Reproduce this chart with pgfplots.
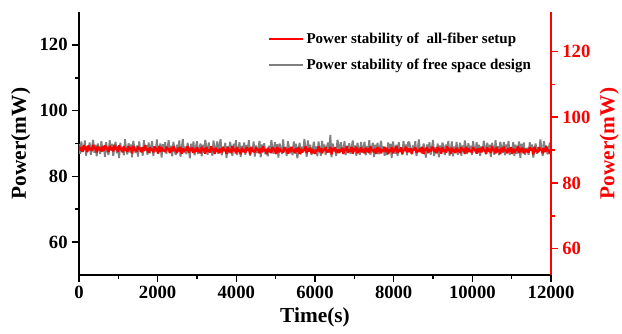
\documentclass[border=0pt]{standalone}
\usepackage{pgfplots}
\pgfplotsset{compat=1.18}
\usepackage{fontspec}
\setmainfont{Liberation Serif}
\definecolor{mygray}{RGB}{128,128,128}
\begin{document}
\begin{tikzpicture}
\path[use as bounding box] (-59.25pt,-44.25pt) rectangle (407.25pt,206.25pt);
\pgfplotsset{
 common/.style={
  scale only axis, width=354pt, height=197.25pt, at={(0,0)}, anchor=south west,
  xmin=0, xmax=12000, scaled x ticks=false, scaled y ticks=false,
  /pgf/number format/assume math mode=true,
  /pgf/number format/set thousands separator={},
  tick label style={font=\bfseries\fontsize{14}{14}\selectfont},
  label style={font=\bfseries\fontsize{16}{16}\selectfont},
  axis line style={-, line width=1.4pt},
  major tick length=5pt, minor tick length=3pt,
  every tick/.style={line width=1.2pt},
  tick align=outside,
 }
}
\begin{axis}[common, axis x line*=bottom, axis y line*=left,
  ymin=50, ymax=130, ytick={60,80,100,120}, minor y tick num=1,
  xtick={0,2000,...,12000}, minor x tick num=1,
  xlabel={Time(s)}, ylabel={Power(mW)}]
\addplot[mygray, line width=1.4pt, line join=bevel] coordinates {
(0,89.8)(30,86.9)(60,90.6)(90,87.4)(120,88.2)(150,90.9)(180,86.3)(210,89.1)(240,87.8)(270,90.3)
(300,86.6)(330,88.9)(360,91.1)(390,87.2)(420,89.6)(450,86.1)(480,90.0)(510,88.4)(540,86.8)(570,90.7)
(600,87.5)(630,89.3)(660,85.9)(690,90.4)(720,88.0)(750,86.5)(780,91.0)(810,87.9)(840,89.9)(870,86.2)
(900,88.7)(930,90.5)(960,87.0)(990,89.2)(1020,85.6)(1050,90.2)(1080,87.7)(1110,88.6)(1140,86.4)(1170,91.3)
(1200,88.1)(1230,86.7)(1260,90.1)(1290,87.3)(1320,89.7)(1350,85.8)(1380,90.8)(1410,88.5)(1440,87.1)(1470,89.4)
(1500,86.0)(1530,90.6)(1560,87.6)(1590,88.8)(1620,86.3)(1650,91.0)(1680,87.9)(1710,89.5)(1740,86.6)(1770,90.3)
(1800,87.0)(1830,88.9)(1860,90.7)(1890,86.2)(1920,89.0)(1950,87.4)(1980,91.2)(2010,86.8)(2040,88.3)(2070,90.0)
(2100,85.7)(2130,89.8)(2160,87.5)(2190,90.4)(2220,86.9)(2250,88.6)(2280,91.0)(2310,87.2)(2340,89.3)(2370,86.1)
(2400,90.5)(2430,88.0)(2460,86.5)(2490,89.6)(2520,87.8)(2550,90.9)(2580,86.0)(2610,88.4)(2640,91.4)(2670,87.3)
(2700,89.1)(2730,86.7)(2760,90.2)(2790,88.2)(2820,85.5)(2850,89.9)(2880,87.6)(2910,90.6)(2940,86.4)(2970,88.8)
(3000,90.7)(3030,86.8)(3060,88.4)(3090,90.0)(3120,86.1)(3150,89.6)(3180,87.2)(3210,91.1)(3240,88.9)(3270,86.6)
(3300,90.3)(3330,87.8)(3360,89.1)(3390,86.3)(3420,90.9)(3450,88.2)(3480,87.4)(3510,90.6)(3540,86.9)(3570,89.8)
(3600,91.3)(3630,86.4)(3660,88.6)(3690,87.7)(3720,90.2)(3750,85.6)(3780,89.2)(3810,87.0)(3840,90.5)(3870,88.7)
(3900,86.2)(3930,89.9)(3960,87.9)(3990,91.0)(4020,86.5)(4050,88.0)(4080,90.4)(4110,85.9)(4140,89.3)(4170,87.5)
(4200,90.3)(4230,86.6)(4260,89.5)(4290,87.9)(4320,91.0)(4350,86.3)(4380,88.8)(4410,87.6)(4440,90.6)(4470,86.0)
(4500,89.4)(4530,87.1)(4560,88.5)(4590,90.8)(4620,85.8)(4650,89.7)(4680,87.3)(4710,90.1)(4740,86.7)(4770,88.1)
(4800,86.1)(4830,89.3)(4860,87.2)(4890,91.0)(4920,88.6)(4950,86.9)(4980,90.4)(5010,87.5)(5040,89.8)(5070,85.7)
(5100,90.0)(5130,88.3)(5160,86.8)(5190,91.2)(5220,87.4)(5250,89.0)(5280,86.2)(5310,90.7)(5340,88.9)(5370,87.0)
(5400,88.8)(5430,86.4)(5460,90.6)(5490,87.6)(5520,89.9)(5550,85.5)(5580,88.2)(5610,90.2)(5640,86.7)(5670,89.1)
(5700,87.3)(5730,91.4)(5760,88.4)(5790,86.0)(5820,90.9)(5850,87.8)(5880,89.6)(5910,86.5)(5940,88.0)(5970,90.5)
(6000,87.7)(6030,89.1)(6060,86.1)(6090,90.6)(6120,88.2)(6150,86.3)(6180,90.8)(6210,87.6)(6240,89.7)(6270,86.5)
(6300,88.9)(6330,90.3)(6360,87.2)(6390,92.6)(6420,85.8)(6450,90.0)(6480,87.5)(6510,88.8)(6540,86.2)(6570,91.1)
(6600,89.6)(6630,87.1)(6660,90.4)(6690,87.6)(6720,88.0)(6750,90.7)(6780,86.5)(6810,89.3)(6840,87.6)(6870,90.1)
(6900,86.8)(6930,88.7)(6960,90.9)(6990,87.4)(7020,89.4)(7050,86.3)(7080,90.2)(7110,88.2)(7140,86.6)(7170,90.5)
(7200,87.2)(7230,88.7)(7260,90.5)(7290,86.4)(7320,89.2)(7350,87.2)(7380,91.0)(7410,86.6)(7440,88.5)(7470,90.2)
(7500,85.9)(7530,89.6)(7560,87.7)(7590,90.2)(7620,86.7)(7650,88.8)(7680,90.8)(7710,87.4)(7740,89.1)(7770,86.3)
(7800,88.3)(7830,86.5)(7860,90.3)(7890,87.1)(7920,89.9)(7950,85.6)(7980,90.6)(8010,88.7)(8040,86.9)(8070,89.6)
(8100,86.2)(8130,90.4)(8160,87.8)(8190,88.6)(8220,86.5)(8250,90.8)(8280,87.7)(8310,89.7)(8340,86.4)(8370,90.5)
(8400,90.3)(8430,88.2)(8460,86.7)(8490,89.4)(8520,88.0)(8550,90.7)(8580,86.2)(8610,88.2)(8640,91.2)(8670,87.5)
(8700,88.9)(8730,86.9)(8760,90.0)(8790,88.4)(8820,85.7)(8850,89.7)(8880,87.8)(8910,90.4)(8940,86.6)(8970,88.6)
(9000,91.1)(9030,86.2)(9060,88.8)(9090,87.5)(9120,90.0)(9150,85.8)(9180,89.4)(9210,87.2)(9240,90.3)(9270,88.9)
(9300,86.5)(9330,89.7)(9360,87.6)(9390,90.8)(9420,86.3)(9450,88.2)(9480,90.6)(9510,86.1)(9540,89.1)(9570,87.7)
(9600,90.5)(9630,86.6)(9660,88.2)(9690,90.2)(9720,86.3)(9750,89.4)(9780,87.4)(9810,90.9)(9840,88.7)(9870,86.8)
(9900,90.1)(9930,87.6)(9960,89.3)(9990,86.5)(10020,90.7)(10050,88.0)(10080,87.6)(10110,90.4)(10140,87.1)(10170,89.6)
(10200,86.3)(10230,89.1)(10260,87.4)(10290,90.8)(10320,88.8)(10350,86.7)(10380,90.2)(10410,87.7)(10440,89.6)(10470,85.9)
(10500,90.2)(10530,88.5)(10560,86.6)(10590,91.0)(10620,87.2)(10650,89.2)(10680,86.4)(10710,90.5)(10740,88.7)(10770,87.2)
(10800,90.5)(10830,86.4)(10860,89.7)(10890,87.7)(10920,90.8)(10950,86.5)(10980,88.6)(11010,87.8)(11040,90.4)(11070,86.2)
(11100,89.6)(11130,86.9)(11160,88.7)(11190,90.6)(11220,85.6)(11250,89.9)(11280,87.1)(11310,90.3)(11340,86.5)(11370,88.3)
(11400,88.6)(11430,86.6)(11460,90.4)(11490,87.8)(11520,89.7)(11550,85.7)(11580,88.4)(11610,90.0)(11640,86.9)(11670,88.9)
(11700,87.5)(11730,91.2)(11760,88.2)(11790,86.2)(11820,90.7)(11850,88.0)(11880,89.4)(11910,86.7)(11940,88.2)(11970,90.3)
(12000,88.4)
};
\end{axis}
\begin{axis}[common, axis x line=none, axis y line*=right,
  ymin=52, ymax=132, ytick={60,80,100,120}, minor y tick num=1,
  axis line style={-, line width=1.4pt, red},
  every tick/.style={line width=1.2pt, red},
  yticklabel style={red},
  ylabel={Power(mW)}, ylabel style={red},
  legend cell align=left,
  legend style={draw=none, fill=none, at={(0.972,0.943)}, anchor=north east,
    font=\bfseries\fontsize{11.25}{13}\selectfont, row sep=6pt},
  legend image code/.code={\draw[#1, line width=1.3pt] (0cm,0cm) -- (0.9cm,0cm);}]
\addplot[red, line width=1.7pt, line join=bevel] coordinates {
(0,91.3)(30,89.9)(60,90.8)(90,89.5)(120,91.5)(150,90.2)(180,91.0)(210,89.4)(240,91.4)(270,90.1)
(300,90.6)(330,89.7)(360,91.6)(390,90.3)(420,90.9)(450,89.3)(480,91.2)(510,90.0)(540,90.7)(570,89.6)
(600,91.1)(630,89.8)(660,91.5)(690,90.4)(720,90.5)(750,89.4)(780,91.3)(810,90.0)(840,90.8)(870,89.6)
(900,91.6)(930,90.2)(960,90.9)(990,89.5)(1020,91.4)(1050,90.1)(1080,90.6)(1110,89.3)(1140,91.2)(1170,89.9)
(1200,90.5)(1230,89.5)(1260,91.2)(1290,90.1)(1320,90.8)(1350,89.0)(1380,91.3)(1410,89.8)(1440,90.3)(1470,89.6)
(1500,91.1)(1530,90.2)(1560,90.6)(1590,89.3)(1620,90.9)(1650,89.7)(1680,91.4)(1710,90.0)(1740,90.4)(1770,89.2)
(1800,90.9)(1830,89.8)(1860,90.4)(1890,89.3)(1920,91.1)(1950,90.0)(1980,90.6)(2010,89.0)(2040,91.2)(2070,89.5)
(2100,90.8)(2130,89.7)(2160,90.2)(2190,89.4)(2220,91.0)(2250,90.1)(2280,90.5)(2310,89.1)(2340,90.7)(2370,89.6)
(2400,91.1)(2430,89.8)(2460,90.2)(2490,89.1)(2520,90.7)(2550,89.6)(2580,91.0)(2610,88.9)(2640,90.5)(2670,89.4)
(2700,90.3)(2730,89.9)(2760,91.2)(2790,89.2)(2820,90.6)(2850,89.7)(2880,90.8)(2910,89.1)(2940,90.4)(2970,89.5)
(3000,90.8)(3030,89.4)(3060,90.3)(3090,89.0)(3120,91.0)(3150,89.7)(3180,90.5)(3210,88.9)(3240,90.9)(3270,89.6)
(3300,90.1)(3330,89.2)(3360,91.1)(3390,89.8)(3420,90.4)(3450,88.8)(3480,90.7)(3510,89.5)(3540,90.2)(3570,89.1)
(3600,90.6)(3630,89.3)(3660,91.0)(3690,89.9)(3720,90.0)(3750,88.9)(3780,90.8)(3810,89.5)(3840,90.3)(3870,89.1)
(3900,91.2)(3930,89.7)(3960,90.4)(3990,89.0)(4020,90.9)(4050,89.6)(4080,90.1)(4110,88.8)(4140,90.7)(4170,89.4)
(4200,90.2)(4230,89.2)(4260,90.9)(4290,89.8)(4320,90.5)(4350,88.7)(4380,91.0)(4410,89.5)(4440,90.0)(4470,89.3)
(4500,90.8)(4530,89.9)(4560,90.3)(4590,89.0)(4620,90.6)(4650,89.4)(4680,91.1)(4710,89.7)(4740,90.1)(4770,88.9)
(4800,90.7)(4830,89.6)(4860,90.2)(4890,89.1)(4920,90.9)(4950,89.8)(4980,90.4)(5010,88.8)(5040,91.0)(5070,89.3)
(5100,90.6)(5130,89.5)(5160,90.0)(5190,89.2)(5220,90.8)(5250,89.9)(5280,90.3)(5310,88.9)(5340,90.5)(5370,89.4)
(5400,91.0)(5430,89.7)(5460,90.1)(5490,89.0)(5520,90.6)(5550,89.5)(5580,90.9)(5610,88.8)(5640,90.4)(5670,89.3)
(5700,90.2)(5730,89.8)(5760,91.1)(5790,89.1)(5820,90.5)(5850,89.6)(5880,90.7)(5910,89.0)(5940,90.3)(5970,89.4)
(6000,88.9)(6030,90.1)(6060,89.7)(6090,91.1)(6120,89.4)(6150,90.6)(6180,89.0)(6210,90.3)(6240,89.9)(6270,90.8)
(6300,89.3)(6330,90.0)(6360,89.5)(6390,91.0)(6420,88.7)(6450,90.5)(6480,89.8)(6510,90.9)(6540,89.2)(6570,90.2)
(6600,89.1)(6630,90.2)(6660,89.5)(6690,90.7)(6720,88.8)(6750,90.4)(6780,89.8)(6810,91.1)(6840,89.2)(6870,90.1)
(6900,89.6)(6930,90.9)(6960,88.9)(6990,90.5)(7020,89.7)(7050,91.0)(7080,89.0)(7110,90.3)(7140,89.4)(7170,90.8)
(7200,89.4)(7230,90.3)(7260,89.0)(7290,90.7)(7320,89.6)(7350,90.5)(7380,89.1)(7410,91.1)(7440,89.8)(7470,90.2)
(7500,89.3)(7530,90.4)(7560,88.8)(7590,90.9)(7620,89.5)(7650,90.6)(7680,89.0)(7710,90.1)(7740,89.7)(7770,91.0)
(7800,89.4)(7830,90.7)(7860,88.8)(7890,90.1)(7920,89.6)(7950,90.9)(7980,89.0)(8010,90.4)(8040,89.7)(8070,91.2)
(8100,89.1)(8130,90.3)(8160,89.5)(8190,90.8)(8220,88.9)(8250,90.0)(8280,89.9)(8310,91.0)(8340,89.3)(8370,90.6)
(8400,89.4)(8430,90.5)(8460,88.9)(8490,90.3)(8520,89.9)(8550,90.8)(8580,89.2)(8610,90.0)(8640,89.5)(8670,90.6)
(8700,89.3)(8730,91.0)(8760,88.8)(8790,90.4)(8820,89.8)(8850,90.9)(8880,89.1)(8910,90.2)(8940,89.6)(8970,90.7)
(9000,90.8)(9030,89.4)(9060,90.3)(9090,89.0)(9120,91.0)(9150,89.7)(9180,90.5)(9210,88.9)(9240,90.9)(9270,89.6)
(9300,90.1)(9330,89.2)(9360,91.1)(9390,89.8)(9420,90.4)(9450,88.8)(9480,90.7)(9510,89.5)(9540,90.2)(9570,89.1)
(9600,90.7)(9630,89.6)(9660,90.2)(9690,89.1)(9720,90.9)(9750,89.8)(9780,90.4)(9810,88.8)(9840,91.0)(9870,89.3)
(9900,90.6)(9930,89.5)(9960,90.0)(9990,89.2)(10020,90.8)(10050,89.9)(10080,90.3)(10110,88.9)(10140,90.5)(10170,89.4)
(10200,90.6)(10230,89.3)(10260,91.0)(10290,89.9)(10320,90.0)(10350,88.9)(10380,90.8)(10410,89.5)(10440,90.3)(10470,89.1)
(10500,91.2)(10530,89.7)(10560,90.4)(10590,89.0)(10620,90.9)(10650,89.6)(10680,90.1)(10710,88.8)(10740,90.7)(10770,89.4)
(10800,91.0)(10830,89.7)(10860,90.1)(10890,89.0)(10920,90.6)(10950,89.5)(10980,90.9)(11010,88.8)(11040,90.4)(11070,89.3)
(11100,90.2)(11130,89.8)(11160,91.1)(11190,89.1)(11220,90.5)(11250,89.6)(11280,90.7)(11310,89.0)(11340,90.3)(11370,89.4)
(11400,90.2)(11430,89.2)(11460,90.9)(11490,89.8)(11520,90.5)(11550,88.7)(11580,91.0)(11610,89.5)(11640,90.0)(11670,89.3)
(11700,90.8)(11730,89.9)(11760,90.3)(11790,89.0)(11820,90.6)(11850,89.4)(11880,91.1)(11910,89.7)(11940,90.1)(11970,88.9)
(12000,90.0)
};
\addlegendentry{Power stability of\ \ all-fiber setup}
\addlegendimage{mygray}
\addlegendentry{Power stability of free space design}
\end{axis}
\end{tikzpicture}
\end{document}
